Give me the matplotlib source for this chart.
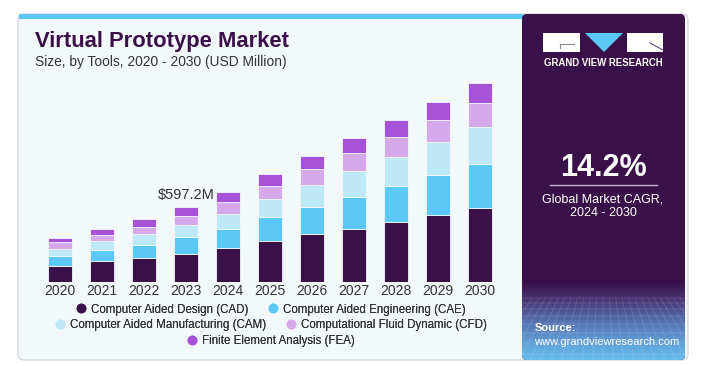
import numpy as np
import matplotlib.pyplot as plt
from matplotlib.colors import LinearSegmentedColormap
from matplotlib.patches import Rectangle, FancyBboxPatch, Polygon
from matplotlib.lines import Line2D

W, H = 721, 366

years = ["2020", "2021", "2022", "2023", "2024", "2025", "2026", "2027", "2028", "2029", "2030"]
segments = [
    "Computer Aided Design (CAD)",
    "Computer Aided Engineering (CAE)",
    "Computer Aided Manufacturing (CAM)",
    "Computational Fluid Dynamic (CFD)",
    "Finite Element Analysis (FEA)",
]
cad = [128, 166, 188, 225, 268, 324, 381, 426, 482, 533, 589]
cae = [78, 86, 107, 132, 157, 193, 219, 257, 289, 326, 356]
cam = [59, 72, 86, 96, 118, 149, 179, 206, 230, 263, 295]
cfd = [51, 53, 61, 77, 94, 104, 124, 142, 163, 177, 198]
fea = [32, 48, 59, 67.2, 80, 96, 107, 120, 137, 147, 161]
colors = ["#3a1048", "#5bc8f5", "#bde8f8", "#d6a9ec", "#a552d8"]

highlight_year = "2023"
highlight_label = "$597.2M"
cagr = "14.2%"

FONT = "Liberation Sans"

fig = plt.figure(figsize=(W / 100, H / 100), dpi=100)
fig.patch.set_facecolor("white")

# background layer in pixel coordinates
bg = fig.add_axes([0, 0, 1, 1])
bg.set_xlim(0, W)
bg.set_ylim(H, 0)
bg.axis("off")

bg.add_patch(FancyBboxPatch((18, 14), 670, 346, boxstyle="round,pad=0,rounding_size=6",
                            facecolor="#f3f8fb", edgecolor="#d5d9dc", lw=1))
bg.add_patch(Rectangle((19, 14), 504, 5, facecolor="#5bc8f5", edgecolor="none"))

# right panel
panel = FancyBboxPatch((522, 14), 163, 346, boxstyle="round,pad=0,rounding_size=5",
                       facecolor="#3a1048", edgecolor="none")
bg.add_patch(panel)
grad = np.linspace(0, 1, 100).reshape(-1, 1)
cmap = LinearSegmentedColormap.from_list("g", ["#3a1048", "#4a3a7a", "#5670b0", "#5f9bd4", "#66bdec"])
im = bg.imshow(grad, extent=(522, 685, 360, 282), origin="upper", cmap=cmap, aspect="auto", zorder=2)
im.set_clip_path(panel)
for gx in np.arange(515, 700, 8):
    ln, = bg.plot([603 + (gx - 603) * 0.8, 603 + (gx - 603) * 1.3], [298, 360], color="white",
                  lw=0.35, alpha=0.22, zorder=3)
    ln.set_clip_path(panel)
for gy in [298, 303, 309, 316, 324, 333, 343, 354]:
    ln, = bg.plot([522, 685], [gy, gy], color="white", lw=0.35, alpha=0.22, zorder=3)
    ln.set_clip_path(panel)

# logo
bg.add_patch(Rectangle((543, 33), 37, 19, facecolor="white", edgecolor="none", zorder=4))
bg.add_patch(Polygon([(585, 33), (623, 33), (604, 52)], facecolor="#5bc8f5", edgecolor="none", zorder=4))
bg.add_patch(Rectangle((627, 33), 36, 19, facecolor="white", edgecolor="none", zorder=4))
bg.plot([560, 574], [44, 44], color="#8a8a8a", lw=0.8, zorder=5)
bg.plot([560, 560], [44, 48], color="#8a8a8a", lw=0.8, zorder=5)
bg.plot([650, 663], [43, 50], color="#6a4a80", lw=0.8, zorder=5)
bg.text(603, 63, "GRAND VIEW RESEARCH", color="white", fontsize=6.9, fontweight="bold",
        family=FONT, ha="center", va="center", zorder=5)

bg.text(603, 168, cagr, color="white", fontsize=22, fontweight="bold", family=FONT,
        ha="center", va="center", zorder=5)
bg.plot([550, 657], [185, 185], color="#c9b8d2", lw=1, zorder=5)
bg.text(603, 199, "Global Market CAGR,", color="white", fontsize=9, family=FONT,
        ha="center", va="center", zorder=5)
bg.text(603, 213, "2024 - 2030", color="white", fontsize=9, family=FONT,
        ha="center", va="center", zorder=5)
bg.text(535, 328, "Source:", color="white", fontsize=8, fontweight="bold", family=FONT,
        ha="left", va="center", zorder=5)
bg.text(534, 342, "www.grandviewresearch.com", color="white", fontsize=8, family=FONT,
        ha="left", va="center", zorder=5)

# titles
bg.text(35, 42, "Virtual Prototype Market", color="#3a1048", fontsize=15.8, fontweight="heavy",
        family=FONT, ha="left", va="center")
bg.text(35, 62, "Size, by Tools, 2020 - 2030 (USD Million)", color="#333333", fontsize=9.9,
        family=FONT, ha="left", va="center")

# bar chart
base_y = 281.7
top_y = 70
ax = fig.add_axes([39 / W, (H - base_y) / H, 462 / W, (base_y - top_y) / H])
ax.set_facecolor("none")
ax.set_xlim(-0.5, 10.5)
ax.set_ylim(0, (base_y - top_y) * 8.03)

x = np.arange(len(years))
bottom = np.zeros(len(years))
for vals, col in zip([cad, cae, cam, cfd, fea], colors):
    ax.bar(x, vals, width=0.58, bottom=bottom, color=col, edgecolor="#f3f8fb", linewidth=0.6)
    bottom += np.array(vals)

i = years.index(highlight_year)
ax.text(x[i], bottom[i] + 40, highlight_label, ha="center", va="bottom", fontsize=10.5,
        color="#333333", family=FONT)

ax.set_xticks(x)
ax.set_xticklabels(years, fontsize=10, color="#333333", family=FONT)
ax.tick_params(axis="x", length=0, pad=2)
ax.set_yticks([])
for s in ax.spines.values():
    s.set_visible(False)

handles = [Line2D([0], [0], marker="o", linestyle="none", markersize=7, markerfacecolor=c,
                  markeredgecolor="none") for c in colors]
rows = [(0, 2, 309.5), (2, 4, 325), (4, 5, 341)]
for a, b, yy in rows:
    leg = fig.legend(handles[a:b], segments[a:b], loc="center", bbox_to_anchor=(270 / W, 1 - yy / H),
                     ncol=b - a, frameon=False, handletextpad=0.3, columnspacing=1.5,
                     borderpad=0, handlelength=1.2, prop={"family": FONT, "size": 8.3})
    for t in leg.get_texts():
        t.set_color("#333333")
    fig.add_artist(leg)

fig.savefig("out.png", dpi=100)
